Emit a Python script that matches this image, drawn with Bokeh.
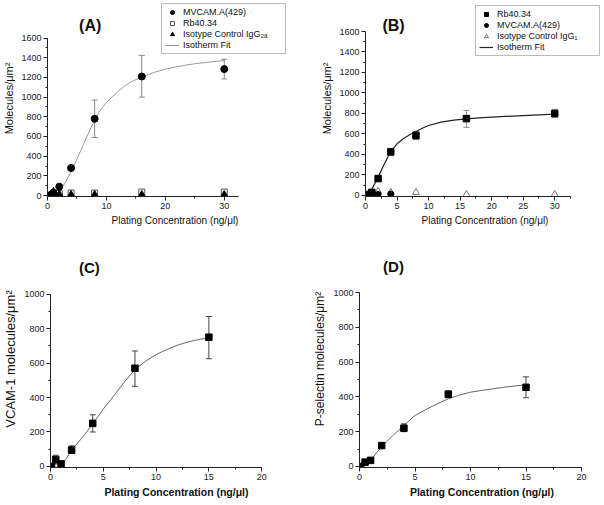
from bokeh.plotting import figure
from bokeh.layouts import column, row
from bokeh.models import (Legend, LegendItem, Whisker, TeeHead, ColumnDataSource, Label,
                          SingleIntervalTicker, Range1d)
from bokeh.embed import file_html
from bokeh.resources import INLINE

FONT = "Liberation Sans"

# ---------------- Panel A data ----------------
a_conc = [0.5, 1, 2, 4, 8, 16, 30]
a_mvcam = [5, 30, 90, 280, 780, 1210, 1285]
a_err_conc = [8, 16, 30]
a_mvcam_lo = [590, 1000, 1185]
a_mvcam_hi = [970, 1425, 1385]
a_rb_conc = [1, 2, 4, 8, 16, 30]
a_rb = [20, 20, 25, 25, 35, 35]
a_iso = [10, 40, 15, 10, 10, 10, 10]
a_fit_x = [1.5, 2, 3, 4, 5, 6, 7, 8, 9, 10, 11, 12, 13, 14, 16, 18, 20, 22, 25, 28, 30]
a_fit_y = [0, 45, 130, 240, 370, 505, 640, 770, 870, 945, 1005, 1060, 1108, 1150, 1205,
           1250, 1285, 1310, 1340, 1360, 1372]

# ---------------- Panel B data ----------------
b_conc = [0.5, 1, 2, 4, 8, 16, 30]
b_rb = [10, 30, 165, 425, 585, 750, 800]
b_err_conc = [4, 8, 16, 30]
b_rb_lo = [395, 545, 665, 760]
b_rb_hi = [460, 625, 830, 840]
b_mv_conc = [1, 2, 4]
b_mv = [25, 10, 15]
b_iso_conc = [1, 2, 4, 8, 16, 30]
b_iso = [20, 40, 30, 30, 10, 10]
b_fit_x = [0.3, 0.5, 1, 2, 3, 4, 5, 6, 7, 8, 9, 10, 12, 14, 16, 18, 20, 25, 30]
b_fit_y = [0, 16, 60, 179, 309, 429, 504, 553, 592, 624, 656, 683, 715, 735, 748, 757,
           764, 780, 793]

# ---------------- Panel C data ----------------
c_conc = [0.1, 0.5, 1, 2, 4, 8, 15]
c_vcam = [0, 40, 15, 95, 250, 570, 750]
c_err_conc = [0.5, 1, 2, 4, 8, 15]
c_lo = [15, 5, 75, 200, 465, 625]
c_hi = [65, 30, 120, 300, 670, 870]
c_fit_x = [0.8, 1, 1.5, 2, 3, 4, 5, 6, 7, 8, 9, 10, 11, 12, 13, 14, 15]
c_fit_y = [0, 8, 45, 94, 167, 247, 333, 410, 490, 563, 610, 649, 678, 703, 722, 736, 747]

# ---------------- Panel D data ----------------
d_conc = [0.1, 0.5, 1, 2, 4, 8, 15]
d_psel = [0, 25, 35, 120, 220, 415, 455]
d_err_conc = [4, 8, 15]
d_lo = [200, 395, 395]
d_hi = [245, 435, 515]
d_fit_x = [0.3, 0.5, 1, 1.5, 2, 3, 4, 5, 6, 7, 8, 9, 10, 11, 12, 13, 14, 15]
d_fit_y = [0, 6, 34, 75, 115, 178, 236, 293, 328, 360, 389, 410, 427, 437, 446, 455, 463, 469]


def make_fig(w, h, px_x0, px_x1, px_ybot, px_ytop, xlo, xhi, ylo, yhi, xint, yint,
             xlabel, ylabel, bold_x, ylab_size):
    # frame spans from the axis origin to the top/right edge of the canvas;
    # the axes themselves are bounded to the data window, as in the original.
    xs = (px_x1 - px_x0) / (xhi - xlo)
    ys = (px_ybot - px_ytop) / (yhi - ylo)
    x_end = xlo + (w - px_x0) / xs
    y_end = ylo + px_ybot / ys
    p = figure(width=w, height=h, output_backend="svg", toolbar_location=None,
               x_range=Range1d(xlo, x_end), y_range=Range1d(ylo, y_end),
               min_border_left=px_x0, min_border_right=0,
               min_border_top=0, min_border_bottom=h - px_ybot)
    p.outline_line_color = None
    p.grid.visible = False
    p.background_fill_color = "white"
    p.border_fill_color = "white"
    p.xaxis.ticker = SingleIntervalTicker(interval=xint, num_minor_ticks=2)
    p.yaxis.ticker = SingleIntervalTicker(interval=yint, num_minor_ticks=2)
    p.xaxis.bounds = (xlo, xhi)
    p.yaxis.bounds = (ylo, yhi)
    for ax in (p.xaxis[0], p.yaxis[0]):
        ax.axis_line_color = "#222"
        ax.major_tick_line_color = "#222"
        ax.minor_tick_line_color = "#222"
        ax.major_tick_out = 4
        ax.major_tick_in = 0
        ax.minor_tick_out = 2
        ax.minor_tick_in = 0
        ax.major_label_text_font = FONT
        ax.major_label_text_font_size = "9px"
        ax.major_label_text_color = "#222"
        ax.major_label_standoff = 2
        ax.axis_label_text_font = FONT
        ax.axis_label_text_color = "#111"
        ax.axis_label_text_font_style = "normal"
        ax.axis_label_standoff = 3
    p.xaxis.axis_label = xlabel
    p.yaxis.axis_label = ylabel
    p.yaxis.axis_label_text_font_size = ylab_size
    if bold_x:
        p.xaxis.axis_label_text_font_style = "bold"
        p.xaxis.axis_label_text_font_size = "10.5px"
    else:
        p.xaxis.axis_label_text_font_size = "10px"
    return p


def add_title(p, x, y, txt, size):
    p.add_layout(Label(x=x, y=y, text=txt, text_font=FONT, text_font_style="bold",
                       text_font_size=size, text_align="center", text_baseline="middle",
                       text_color="#111"))


def add_err(p, xs, lo, hi, color):
    src = ColumnDataSource(dict(x=xs, lower=lo, upper=hi))
    p.add_layout(Whisker(base="x", lower="lower", upper="upper", source=src,
                         line_color=color, line_width=1,
                         upper_head=TeeHead(size=6, line_color=color, line_width=1),
                         lower_head=TeeHead(size=6, line_color=color, line_width=1)))


def style_legend(lg):
    lg.label_text_font = FONT
    lg.label_text_font_size = "9px"
    lg.label_text_color = "#111"
    lg.label_height = 10
    lg.label_width = 99
    lg.glyph_height = 10
    lg.glyph_width = 14
    lg.spacing = 1
    lg.padding = 3
    lg.margin = 0
    lg.label_standoff = 4
    lg.border_line_color = "#777"
    lg.border_line_width = 1
    lg.background_fill_color = "white"
    lg.background_fill_alpha = 1.0


XLAB = "Plating Concentration (ng/\u03bcl)"

# ---------------- Panel A ----------------
pA = make_fig(302, 250, 45, 238, 198, 38, 0, 32.5, -10, 1600, 10, 200,
              XLAB, "Molecules/\u03bcm\u00b2", False, "11px")
add_err(pA, a_err_conc, a_mvcam_lo, a_mvcam_hi, "#888")
rA_fit = pA.line(a_fit_x, a_fit_y, line_color="#999", line_width=1)
rA_rb = pA.scatter(a_rb_conc, a_rb, marker="square", size=6, fill_color="white",
                   line_color="#555", line_width=1)
rA_iso = pA.scatter(a_conc, a_iso, marker="triangle", size=7, fill_color="black",
                    line_color="black")
rA_mv = pA.scatter(a_conc, a_mvcam, marker="circle", size=7, fill_color="black",
                   line_color="black")
lgA = Legend(items=[LegendItem(label="MVCAM.A(429)", renderers=[rA_mv]),
                    LegendItem(label="Rb40.34", renderers=[rA_rb]),
                    LegendItem(label="Isotype Control IgG\u2082\u2090", renderers=[rA_iso]),
                    LegendItem(label="Isotherm Fit", renderers=[rA_fit])],
             location=(114, 142))
style_legend(lgA)
pA.add_layout(lgA, "center")
add_title(pA, 7.25, 1731, "(A)", "16px")

# ---------------- Panel B ----------------
pB = make_fig(302, 250, 63, 268, 196, 31, 0, 32.5, -10, 1600, 5, 200,
              XLAB, "Molecules/\u03bcm\u00b2", False, "11px")
add_err(pB, b_err_conc, b_rb_lo, b_rb_hi, "#888")
rB_fit = pB.line(b_fit_x, b_fit_y, line_color="#222", line_width=1.2)
rB_iso = pB.scatter(b_iso_conc, b_iso, marker="triangle", size=7, fill_color="white",
                    line_color="#777", line_width=1)
rB_mv = pB.scatter(b_mv_conc, b_mv, marker="circle", size=6, fill_color="black",
                   line_color="black")
rB_rb = pB.scatter(b_conc, b_rb, marker="square", size=6.5, fill_color="black",
                   line_color="black")
lgB = Legend(items=[LegendItem(label="Rb40.34", renderers=[rB_rb]),
                    LegendItem(label="MVCAM.A(429)", renderers=[rB_mv]),
                    LegendItem(label="Isotype Control IgG\u2081", renderers=[rB_iso]),
                    LegendItem(label="Isotherm Fit", renderers=[rB_fit])],
             location=(110, 140))
style_legend(lgB)
pB.add_layout(lgB, "center")
add_title(pB, 4.44, 1659, "(B)", "16px")

# ---------------- Panel C ----------------
pC = make_fig(302, 254, 49, 261, 219, 44, 0, 20, -6, 1000, 5, 200,
              XLAB, "VCAM-1 molecules/\u03bcm\u00b2", True, "13px")
add_err(pC, c_err_conc, c_lo, c_hi, "#444")
pC.line(c_fit_x, c_fit_y, line_color="#666", line_width=1)
pC.scatter(c_conc, c_vcam, marker="square", size=6.5, fill_color="black", line_color="black")
add_title(pC, 3.68, 1155, "(C)", "15px")

# ---------------- Panel D ----------------
pD = make_fig(302, 254, 57, 279, 217, 42, 0, 20, -6, 1000, 5, 200,
              XLAB, "P-selectin molecules/\u03bcm\u00b2", True, "12px")
add_err(pD, d_err_conc, d_lo, d_hi, "#444")
pD.line(d_fit_x, d_fit_y, line_color="#666", line_width=1)
pD.scatter(d_conc, d_psel, marker="square", size=6.5, fill_color="black", line_color="black")
add_title(pD, 3.06, 1149, "(D)", "15px")

layout = column(row(pA, pB), row(pC, pD))
open("out.html", "w").write(file_html(layout, INLINE))
